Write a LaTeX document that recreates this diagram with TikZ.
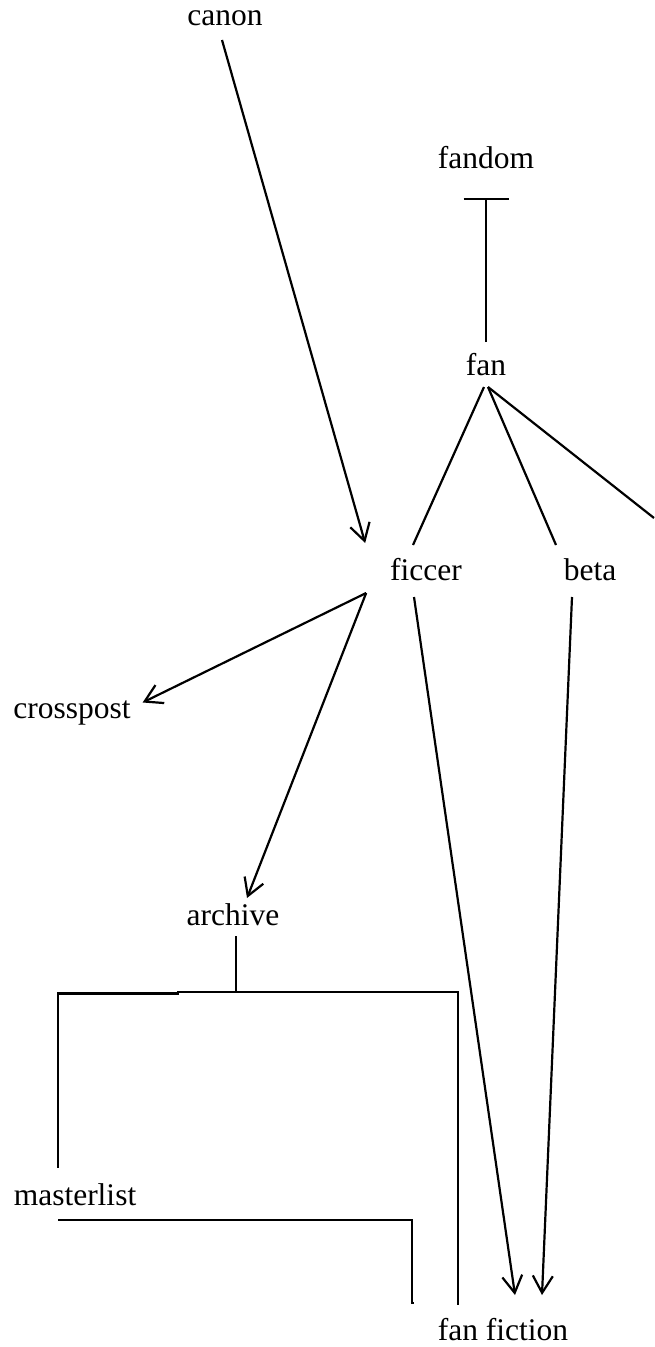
\documentclass[tikz,border=0pt]{standalone}
\usepackage{fontspec}
\setmainfont{Liberation Serif}
\usetikzlibrary{positioning,arrows.meta}

\begin{document}
\begin{tikzpicture}[
  x=1pt, y=-1pt,
  font=\fontsize{31.5pt}{36pt}\selectfont,
  >={Straight Barb[length=17pt,width=20pt]},
  term/.style={inner sep=0pt, outer sep=0pt, text height=22pt, text depth=7pt, anchor=base},
  link/.style={line width=2.2pt},
]
  \useasboundingbox (0,0) rectangle (654,1347);

  % Terms
  \node[term] (canon)      at (225,25)   {canon};
  \node[term] (fandom)     at (486,168)  {fandom};
  \node[term] (fan)        at (486,375)  {fan};
  \node[term] (ficcer)     at (426,580)  {ficcer};
  \node[term] (beta)       at (590,580)  {beta};
  \node[term] (crosspost)  at (72,718)   {crosspost};
  \node[term] (archive)    at (233,925)  {archive};
  \node[term] (masterlist) at (75,1205)  {masterlist};
  \node[term] (fanfiction) at (503,1340) {fan fiction};

  \coordinate (offedge) at (654,518);
  \coordinate (split) at (236,992);
  \coordinate (jog) at (178,993.5);

  % fan is bounded by fandom
  \draw[link, -{Bar[width=45pt]}] ([yshift=11pt]fan.north) -- ([yshift=-23pt]fandom.south);

  % fan branches
  \draw[link] ([xshift=-2pt,yshift=-5pt]fan.south) -- ([xshift=-13pt,yshift=13pt]ficcer.north);
  \draw[link] ([xshift=2pt,yshift=-5pt]fan.south) -- ([xshift=-34pt,yshift=13pt]beta.north);
  \draw[link] ([xshift=2pt,yshift=-5pt]fan.south) -- (offedge);

  % Arrows
  \draw[link, ->] ([xshift=-3pt,yshift=-8pt]canon.south) -- ([xshift=-25pt,yshift=15pt]ficcer.north west);
  \draw[link, ->] ([xshift=-24pt,yshift=-6pt]ficcer.south west) -- ([xshift=12pt,yshift=8pt]crosspost.east);
  \draw[link, ->] ([xshift=-24pt,yshift=-6pt]ficcer.south west) -- ([xshift=14pt,yshift=5pt]archive.north);
  \draw[link, ->] ([xshift=-12pt,yshift=-10pt]ficcer.south) -- ([xshift=12pt,yshift=23pt]fanfiction.north);
  \draw[link, ->] ([xshift=-18pt,yshift=-10pt]beta.south) -- ([xshift=39pt,yshift=23pt]fanfiction.north);

  % archive tree
  \draw[link] ([xshift=3pt,yshift=-4pt]archive.south) -- (split);
  \draw[link] (split) -- (split -| jog) -- (jog) -| ([xshift=-17pt,yshift=15pt]masterlist.north);
  \draw[link] (split) -| ([xshift=20pt,yshift=13pt]fanfiction.north west);
  \draw[link] ([xshift=-17pt,yshift=-8pt]masterlist.south) -| ([xshift=-26pt,yshift=15pt]fanfiction.north west) -- ++(2,0);
\end{tikzpicture}
\end{document}
